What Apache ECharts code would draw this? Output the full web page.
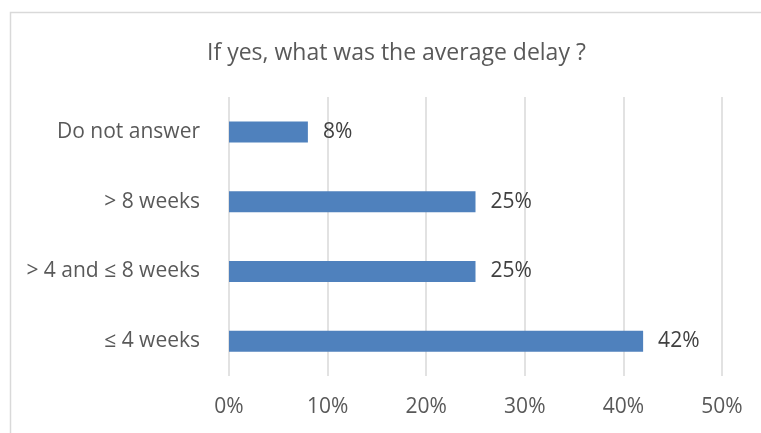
<!DOCTYPE html>
<html>
<head>
<meta charset="utf-8">
<script src="https://cdn.jsdelivr.net/npm/echarts@6/dist/echarts.min.js"></script>
<style>
html,body{margin:0;padding:0;background:#fff;}
#chart{width:761px;height:433px;}
</style>
</head>
<body>
<div id="chart"></div>
<script>
const titleText = 'If yes, what was the average delay ?';
const categories = ['≤ 4 weeks', '> 4 and ≤ 8 weeks', '> 8 weeks', 'Do not answer'];
const values = [42, 25, 25, 8];
const xTicks = [0, 10, 20, 30, 40, 50];

const chart = echarts.init(document.getElementById('chart'));
const font = '"Open Sans", "Liberation Sans", sans-serif';
chart.setOption({
  animation: false,
  backgroundColor: '#ffffff',
  graphic: [{
    type: 'rect',
    shape: { x: 10.5, y: 12.5, width: 800, height: 500 },
    style: { fill: 'none', stroke: '#d9d9d9', lineWidth: 1.5 },
    silent: true
  }],
  title: {
    text: titleText,
    left: 202,
    top: 37,
    textStyle: { fontFamily: font, fontSize: 23, fontWeight: 'normal', color: '#595959' }
  },
  grid: { left: 229, right: 39, top: 97, bottom: 57, containLabel: false },
  xAxis: {
    type: 'value',
    min: xTicks[0],
    max: xTicks[xTicks.length - 1],
    interval: 10,
    axisLine: { show: false },
    axisTick: { show: false },
    splitLine: { show: true, lineStyle: { color: '#d9d9d9', width: 1.5 } },
    axisLabel: { formatter: '{value}%', margin: 21, fontFamily: font, fontSize: 21, color: '#595959' }
  },
  yAxis: {
    type: 'category',
    data: categories,
    axisLine: { show: false },
    axisTick: { show: false },
    axisLabel: { margin: 29, fontFamily: font, fontSize: 21, color: '#595959' }
  },
  series: [{
    type: 'bar',
    data: values,
    barWidth: 21,
    itemStyle: { color: '#4f81bd' },
    label: {
      show: true,
      position: 'right',
      distance: 15,
      formatter: '{c}%',
      fontFamily: font,
      fontSize: 21,
      color: '#404040'
    }
  }]
});
</script>
</body>
</html>
